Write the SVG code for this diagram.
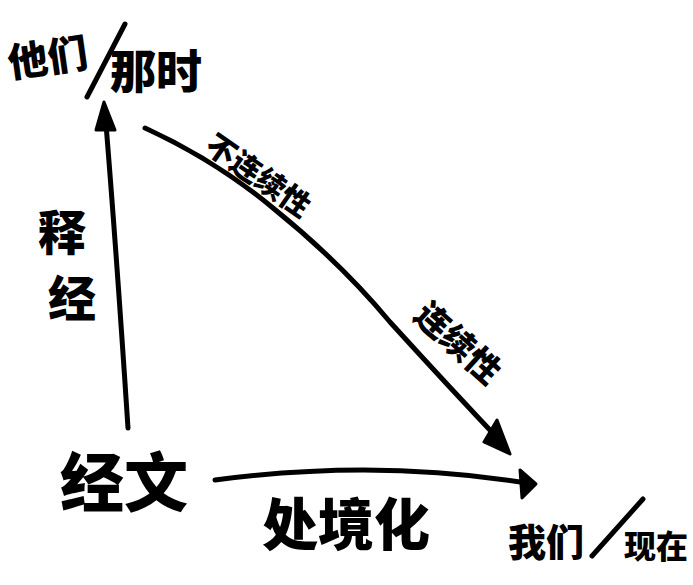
<svg xmlns="http://www.w3.org/2000/svg" width="693" height="585" viewBox="0 0 693 585">
<style>
.t{font-family:"Noto Sans CJK SC","Noto Sans CJK JP",sans-serif;font-weight:900;fill:#000}
.ln{fill:none;stroke:#000;stroke-width:5;stroke-linecap:round;stroke-linejoin:round}
.hd{fill:#000;stroke:#000;stroke-width:3;stroke-linejoin:round}
</style>
<rect width="693" height="585" fill="#fff"/>
<g id="then">
<text class="t" x="8" y="72" font-size="40" transform="rotate(-8 50 60)">他们</text>
<line class="ln" x1="87" y1="97" x2="125" y2="24" stroke-width="6"/>
<text class="t" x="110" y="88" font-size="46">那时</text>
</g>
<g id="text">
<text class="t" x="60" y="506" font-size="64">经文</text>
</g>
<g id="now">
<text class="t" x="508" y="556" font-size="38">我们</text>
<line class="ln" x1="592" y1="556" x2="643" y2="499" stroke-width="6"/>
<text class="t" x="624" y="558" font-size="32">现在</text>
</g>
<g id="connectors">
<path class="ln" d="M128,428 Q 117,260 106,124"/>
<polygon class="hd" points="104,102 96,130 115,130"/>
<path class="ln" d="M145,128 Q 215,160 273,208 Q 340,262 390,322 Q 450,388 505,446"/>
<polygon class="hd" points="510,454 484,442 497,420"/>
<path class="ln" d="M215,480 Q 380,458 532,484"/>
<polygon class="hd" points="536,484 520,470 522,498"/>
</g>
<g id="labels">
<text class="t" font-size="48" x="38" y="250">释</text>
<text class="t" font-size="48" x="48" y="316">经</text>
<text class="t" font-size="30" transform="translate(203,150) rotate(35)">不连续性</text>
<text class="t" font-size="34" transform="translate(412,318) rotate(42)">连续性</text>
<text class="t" font-size="56" x="262" y="545">处境化</text>
</g>
</svg>
